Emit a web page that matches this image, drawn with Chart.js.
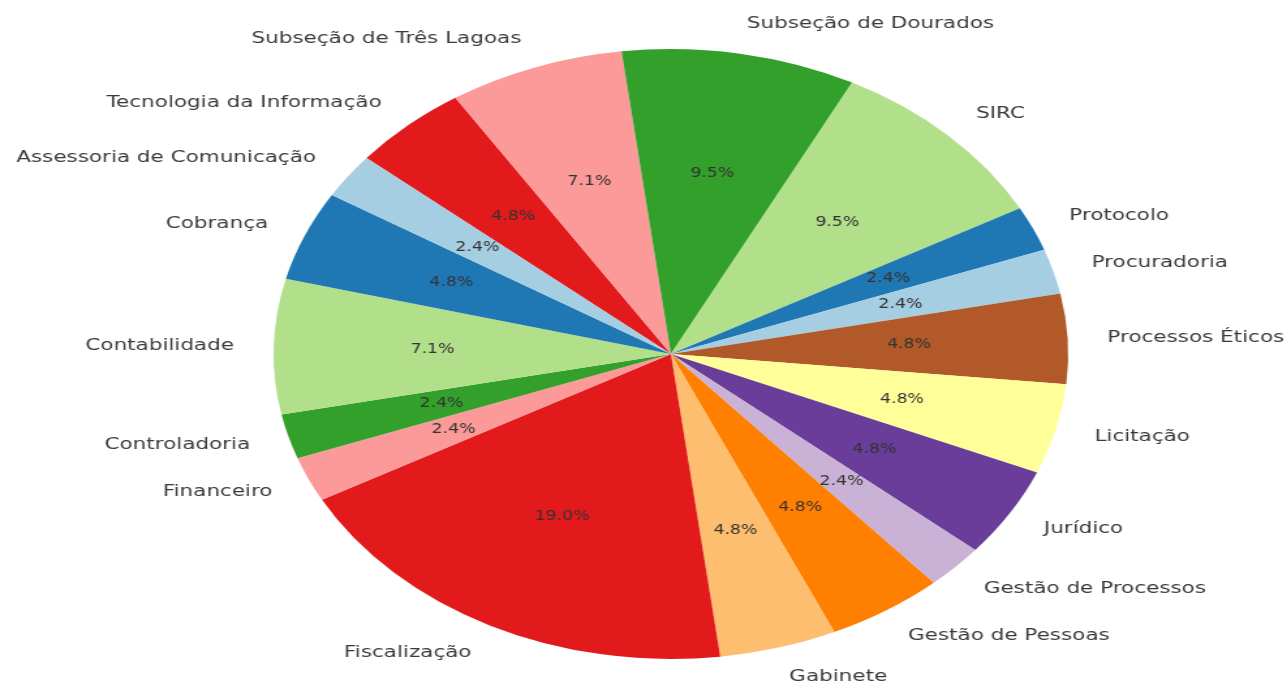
<!DOCTYPE html>
<html lang="pt">
<head>
    <meta charset="UTF-8">
    <title>Distribuição por setor</title>
    <script src="https://cdn.jsdelivr.net/npm/chart.js"></script>
    <style>
        body {
            margin: 0;
            background: #fff;
            overflow: hidden;
        }

        #wrap {
            width: 988px;
            height: 686px;
            transform: scaleX(1.3027);
            transform-origin: 0 0;
        }
    </style>
</head>
<body>

<div id="wrap">
    <canvas id="pieChart" width="988" height="686" style="width:988px;height:686px"></canvas>
</div>

<script>
    // setores em ordem alfabética (sentido anti-horário, como no original)
    const categories = [
        'Assessoria de Comunicação', 'Cobrança', 'Contabilidade', 'Controladoria',
        'Financeiro', 'Fiscalização', 'Gabinete', 'Gestão de Pessoas',
        'Gestão de Processos', 'Jurídico', 'Licitação', 'Processos Éticos',
        'Procuradoria', 'Protocolo', 'SIRC', 'Subseção de Dourados',
        'Subseção de Três Lagoas', 'Tecnologia da Informação'
    ];
    const counts = [1, 2, 3, 1, 1, 8, 2, 2, 1, 2, 2, 2, 1, 1, 4, 4, 3, 2];

    const paired = ['#a6cee3', '#1f78b4', '#b2df8a', '#33a02c', '#fb9a99', '#e31a1c',
                    '#fdbf6f', '#ff7f00', '#cab2d6', '#6a3d9a', '#ffff99', '#b15928'];

    const total = counts.reduce((a, b) => a + b, 0);
    const colors = categories.map((c, i) => paired[i % paired.length]);

    // Chart.js desenha no sentido horário, então invertemos a ordem
    const labelsRev = categories.slice().reverse();
    const countsRev = counts.slice().reverse();
    const colorsRev = colors.slice().reverse();

    const outsideLabels = {
        id: 'outsideLabels',
        afterDatasetsDraw(chart) {
            const ctx = chart.ctx;
            const meta = chart.getDatasetMeta(0);
            ctx.save();
            meta.data.forEach((arc, i) => {
                const p = arc.getProps(['x', 'y', 'startAngle', 'endAngle', 'outerRadius'], true);
                const mid = (p.startAngle + p.endAngle) / 2;
                const cos = Math.cos(mid), sin = Math.sin(mid);

                // nome do setor fora da pizza
                const lx = p.x + cos * p.outerRadius * 1.1;
                const ly = p.y + sin * p.outerRadius * 1.1;
                ctx.font = '16.5px "DejaVu Sans"';
                ctx.fillStyle = '#3a3a3a';
                ctx.textBaseline = 'middle';
                ctx.textAlign = cos > 0 ? 'left' : 'right';
                ctx.fillText(chart.data.labels[i], lx, ly);

                // percentual dentro da fatia
                const px = p.x + cos * p.outerRadius * 0.6;
                const py = p.y + sin * p.outerRadius * 0.6;
                const pct = (countsRev[i] / total * 100).toFixed(1) + '%';
                ctx.font = '13.3px "DejaVu Sans"';
                ctx.fillStyle = '#333333';
                ctx.textAlign = 'center';
                ctx.fillText(pct, px, py);
            });
            ctx.restore();
        }
    };

    new Chart(document.getElementById('pieChart'), {
        type: 'pie',
        data: {
            labels: labelsRev,
            datasets: [{
                data: countsRev,
                backgroundColor: colorsRev,
                borderWidth: 0
            }]
        },
        options: {
            responsive: false,
            animation: false,
            rotation: -50,
            layout: {
                padding: { top: 49, bottom: 27, left: 210, right: 168 }
            },
            plugins: {
                legend: { display: false },
                tooltip: { enabled: false }
            }
        },
        plugins: [outsideLabels]
    });
</script>

</body>
</html>
